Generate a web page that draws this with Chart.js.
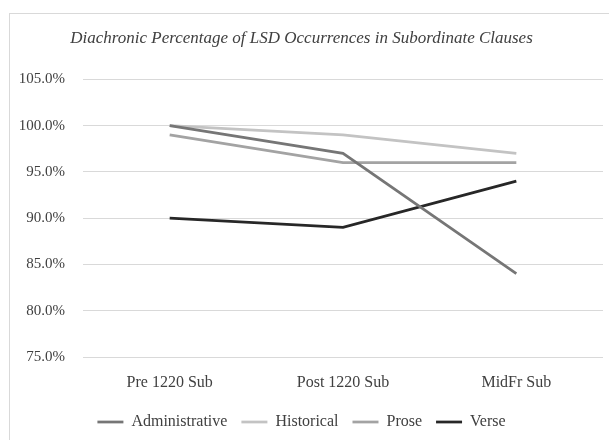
<!DOCTYPE html>
<html>
<head>
<meta charset="utf-8">
<script src="https://cdn.jsdelivr.net/npm/chart.js@4.4.1/dist/chart.umd.min.js"></script>
<style>
  html, body { margin: 0; padding: 0; background: #fff; }
  #wrap { position: relative; width: 609px; height: 440px; overflow: hidden; }
  #frame { position: absolute; left: 9px; top: 13px; width: 640px; height: 460px; border: 1px solid #d9d9d9; box-sizing: border-box; }
  #chart { position: absolute; left: 0; top: 0; }
</style>
</head>
<body>
<div id="wrap">
  <div id="frame"></div>
  <canvas id="chart" width="609" height="440"></canvas>
</div>
<script>
const categories = ["Pre 1220 Sub", "Post 1220 Sub", "MidFr Sub"];
const administrative = [100, 97, 84];
const historical = [100, 99, 97];
const prose = [99, 96, 96];
const verse = [90, 89, 94];
const yTicks = [75, 80, 85, 90, 95, 100, 105];

const serif = "'Liberation Serif', 'DejaVu Serif', serif";
const textColor = "#404040";

function line(label, data, color) {
  return { label, data, borderColor: color, backgroundColor: color, borderWidth: 2.75, pointRadius: 0, tension: 0, fill: false };
}

new Chart(document.getElementById("chart").getContext("2d"), {
  type: "line",
  data: {
    labels: categories,
    datasets: [
      line("Administrative", administrative, "#767676"),
      line("Historical", historical, "#c3c3c3"),
      line("Prose", prose, "#a3a3a3"),
      line("Verse", verse, "#272727"),
    ],
  },
  options: {
    responsive: false,
    animation: false,
    layout: { padding: { left: 0, right: 6, top: 0, bottom: 0 } },
    plugins: {
      title: {
        display: true,
        text: "Diachronic Percentage of LSD Occurrences in Subordinate Clauses",
        color: textColor,
        font: { family: serif, size: 17, style: "italic", weight: "normal" },
        padding: { top: 28, bottom: 31 },
      },
      legend: {
        position: "bottom",
        labels: {
          color: textColor,
          font: { family: serif, size: 16 },
          usePointStyle: true,
          pointStyle: "line",
          pointStyleWidth: 26,
          padding: 14,
        },
      },
      tooltip: { enabled: false },
    },
    scales: {
      x: {
        offset: true,
        grid: { display: false, drawTicks: false, offset: true },
        border: { display: false },
        ticks: { color: textColor, font: { family: serif, size: 16 }, padding: 16 },
        afterFit: s => { s.height = 43; },
      },
      y: {
        min: yTicks[0],
        max: yTicks[yTicks.length - 1],
        afterBuildTicks: s => { s.ticks = yTicks.map(v => ({ value: v })); },
        grid: { color: "#d9d9d9", lineWidth: 1, drawTicks: false },
        border: { display: false },
        ticks: {
          color: textColor,
          font: { family: serif, size: 15 },
          padding: 18,
          callback: v => v.toFixed(1) + "%",
        },
        afterFit: s => { s.width = 83; },
      },
    },
  },
});
</script>
</body>
</html>
